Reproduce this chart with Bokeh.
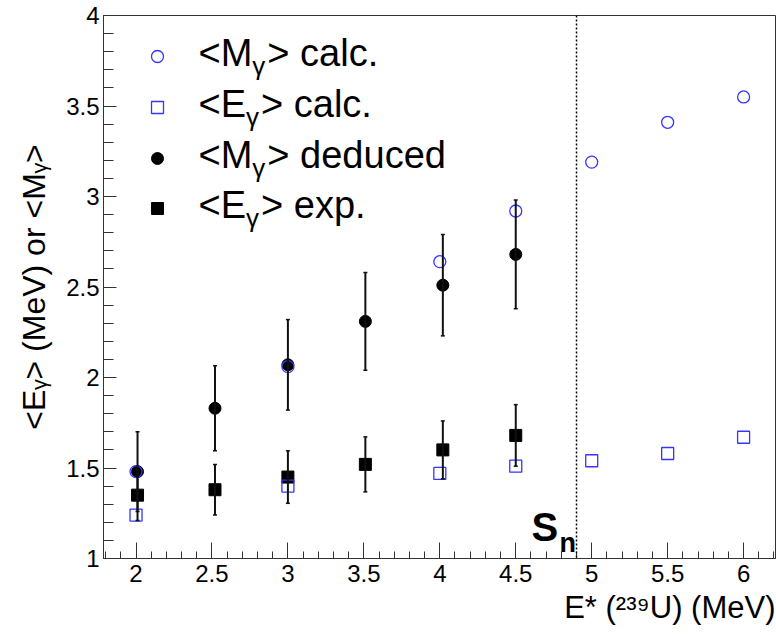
import math
from bokeh.plotting import figure
from bokeh.models import (ColumnDataSource, Whisker, TeeHead, Span, Label, Range1d, Title,
                          SingleIntervalTicker, CustomJSTickFormatter)
from bokeh.embed import file_html
from bokeh.resources import INLINE

# ---------------- data ----------------
x_calc = [2.0, 3.0, 4.0, 4.5, 5.0, 5.5, 6.0]
m_calc = [1.48, 2.06, 2.64, 2.92, 3.19, 3.41, 3.55]
e_calc = [1.24, 1.40, 1.47, 1.51, 1.54, 1.58, 1.67]

x_exp = [2.01, 2.52, 3.00, 3.51, 4.02, 4.50]
m_ded = [1.48, 1.83, 2.07, 2.31, 2.51, 2.68]
m_ded_err = [0.22, 0.235, 0.25, 0.27, 0.28, 0.30]
e_exp = [1.35, 1.38, 1.45, 1.52, 1.60, 1.68]
e_exp_err = [0.14, 0.14, 0.145, 0.152, 0.16, 0.17]

s_n = 4.90
x_start, x_end = 1.786, 6.21
y_start, y_end = 1.0, 4.0

legend_labels = [("<M", "γ", "> calc."), ("<E", "γ", "> calc."),
                 ("<M", "γ", "> deduced"), ("<E", "γ", "> exp.")]
x_title = "E* (²³⁹U) (MeV)"
y_title = "<Eᵧ> (MeV) or <Mᵧ>"

# ---------------- layout ----------------
W, H = 776, 635
FL, FR, FT, FB = 103, 775, 15, 558   # frame edges on the page
FONT = "Liberation Sans"
BLUE = "#3535ff"
AXC = "#333333"

p = figure(width=W, height=H, output_backend="svg", toolbar_location=None,
           x_range=Range1d(x_start, x_end), y_range=Range1d(y_start, y_end),
           min_border_left=FL, min_border_right=W - FR, min_border_top=FT,
           min_border_bottom=H - FB)
p.grid.visible = False
p.outline_line_color = AXC
p.outline_line_width = 1
p.background_fill_color = "white"
p.border_fill_color = "white"

fmt = CustomJSTickFormatter(code="return String(+tick.toFixed(2));")
for ax, maj_in, min_in, stand in ((p.xaxis[0], 16, 7, 6), (p.yaxis[0], 13, 10, 4)):
    ax.ticker = SingleIntervalTicker(interval=0.5, num_minor_ticks=5)
    ax.formatter = fmt
    ax.major_tick_in = maj_in
    ax.major_tick_out = 0
    ax.minor_tick_in = min_in
    ax.minor_tick_out = 0
    ax.axis_line_color = AXC
    ax.major_tick_line_color = AXC
    ax.minor_tick_line_color = AXC
    ax.major_label_text_font = FONT
    ax.major_label_text_font_size = "24px"
    ax.major_label_text_color = "black"
    ax.major_label_standoff = stand

# axis titles as side-panel titles (right aligned below, rotated on the left)
p.add_layout(Title(text=x_title, align="right", text_font=FONT, text_font_size="31px",
                   text_font_style="normal", text_color="black", standoff=7, offset=0),
             "below")
p.add_layout(Title(text=y_title, align="center", text_font=FONT, text_font_size="32px",
                   text_font_style="normal", text_color="black", standoff=24, offset=26),
             "left")

# S_n line
p.add_layout(Span(location=s_n, dimension="height", line_color="black",
                  line_dash="2 2", line_width=1.5))

# error bars
src_m = ColumnDataSource(dict(x=x_exp, y=m_ded,
                              lo=[v - e for v, e in zip(m_ded, m_ded_err)],
                              hi=[v + e for v, e in zip(m_ded, m_ded_err)]))
src_e = ColumnDataSource(dict(x=x_exp, y=e_exp,
                              lo=[v - e for v, e in zip(e_exp, e_exp_err)],
                              hi=[v + e for v, e in zip(e_exp, e_exp_err)]))
for s in (src_m, src_e):
    p.add_layout(Whisker(base="x", lower="lo", upper="hi", source=s,
                         line_color="#111111", line_width=2, level="glyph",
                         lower_head=TeeHead(size=4, line_width=1.5, line_color="#111111"),
                         upper_head=TeeHead(size=4, line_width=1.5, line_color="#111111")))

p.scatter("x", "y", source=src_m, marker="circle", size=12, fill_color="black", line_color="black")
p.scatter("x", "y", source=src_e, marker="square", size=12, fill_color="black", line_color="black")
p.scatter(x_calc, m_calc, marker="circle", size=12, fill_color=None, line_color=BLUE, line_width=1.3)
p.scatter(x_calc, e_calc, marker="square", size=12, fill_color=None, line_color=BLUE, line_width=1.3)

# ---------------- rich text helpers (inside the frame) ----------------
ARIAL = {" ": 278, "(": 333, ")": 333, "*": 389, ".": 278, "<": 584, ">": 584,
         "E": 667, "M": 833, "U": 722, "V": 667, "S": 667, "a": 556, "c": 500,
         "d": 556, "e": 556, "l": 222, "o": 556, "p": 556, "r": 333, "u": 556,
         "x": 500, "n": 556, "γ": 500}
BASE_SHIFT = 0.38   # compensation of the rendered baseline, in em


def twidth(t, size, bold=False):
    w = sum(ARIAL.get(c, 556) for c in t) * size / 1000.0
    if bold:
        w *= 1.05
    return w


def dx(px):
    return x_start + (px - FL) / (FR - FL) * (x_end - x_start)


def dy(py):
    return y_end - (py - FT) / (FB - FT) * (y_end - y_start)


def rich(pieces, px, py, gap=2.0):
    """pieces: (text, size, shift_down_px, bold); px, py: page position of start of baseline."""
    x = float(px)
    for text, size, sh, bold in pieces:
        yy = py + sh - BASE_SHIFT * size
        p.add_layout(Label(x=dx(x), y=dy(yy), x_units="data", y_units="data",
                           text=text, text_font=FONT, text_font_size=f"{size}px",
                           text_font_style="bold" if bold else "normal",
                           text_color="black", text_align="left", text_baseline="alphabetic"))
        x += twidth(text, size, bold) + (gap if sh else 0)


# legend
leg_rows_py = [56, 107, 158, 208]
leg_x = dx(157)
leg_y = [dy(r) for r in leg_rows_py]
p.scatter([leg_x], [leg_y[0]], marker="circle", size=12, fill_color=None,
          line_color=BLUE, line_width=1.3)
p.scatter([leg_x], [leg_y[1]], marker="square", size=12, fill_color=None,
          line_color=BLUE, line_width=1.3)
p.scatter([leg_x], [leg_y[2]], marker="circle", size=12, fill_color="black",
          line_color="black")
p.scatter([leg_x], [leg_y[3]], marker="square", size=12, fill_color="black",
          line_color="black")
for (a, g, b), r in zip(legend_labels, leg_rows_py):
    rich([(a, 38, 0, False), (g, 26, 8, False), (b, 38, 0, False)], 198, r + 11)

# S_n label
rich([("S", 40, 0, True), ("n", 27, 11, True)], 531, 542, gap=1.0)

open("out.html", "w").write(file_html(p, INLINE))
